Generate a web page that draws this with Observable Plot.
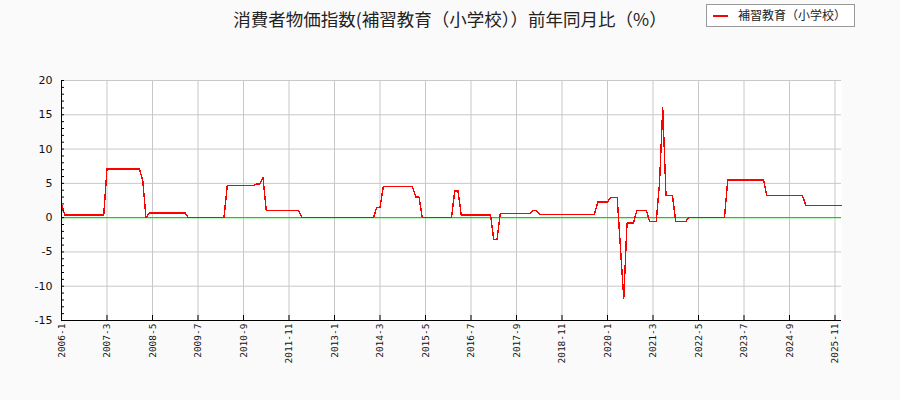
<!DOCTYPE html>
<html><head><meta charset="utf-8">
<script src="https://cdn.jsdelivr.net/npm/d3@7"></script>
<script src="https://cdn.jsdelivr.net/npm/@observablehq/plot@0.6"></script>
<style>
html,body{margin:0;padding:0;background:#fafafa;}
body{width:900px;height:400px;overflow:hidden;position:relative;}
#head{position:relative;width:900px;height:40px;}
#title{position:absolute;left:0;top:9px;width:900px;text-align:center;font-family:"Noto Sans CJK JP",sans-serif;font-size:17.5px;line-height:19px;color:#222;}
#legend{position:absolute;left:706px;top:4px;width:147px;height:21px;border:1px solid #999;background:#fff;font-family:"Noto Sans CJK JP",sans-serif;font-size:12px;color:#222;}
#legend .sw{position:absolute;left:6px;top:10px;width:15px;height:2px;background:#f00;}
#legend .lb{position:absolute;left:31px;top:3px;line-height:14px;white-space:nowrap;}
#chart svg{display:block;}
</style>
</head><body>
<div id="head">
  <div id="title">消費者物価指数(補習教育（小学校））前年同月比（%）</div>
  <div id="legend"><span class="sw"></span><span class="lb">補習教育（小学校）</span></div>
</div>
<div id="chart"></div>
<script>
const seriesName = "補習教育（小学校）";
const startYear = 2006;
const startMonth = 1;
// monthly year-on-year change (%), 2006-1 .. 2026-1
const values = [
  2.0, 0.4, 0.4, 0.4, 0.4, 0.4, 0.4, 0.4, 0.4, 0.4, 0.4, 0.4,   // 2006
  0.4, 0.4, 7.1, 7.1, 7.1, 7.1, 7.1, 7.1, 7.1, 7.1, 7.1, 7.1,   // 2007
  7.1, 5.4, 0.0, 0.7, 0.7, 0.7, 0.7, 0.7, 0.7, 0.7, 0.7, 0.7,   // 2008
  0.7, 0.7, 0.7, 0.0, 0.0, 0.0, 0.0, 0.0, 0.0, 0.0, 0.0, 0.0,   // 2009
  0.0, 0.0, 0.0, 4.7, 4.7, 4.7, 4.7, 4.7, 4.7, 4.7, 4.7, 4.7,   // 2010
  4.9, 4.9, 5.9, 1.0, 1.0, 1.0, 1.0, 1.0, 1.0, 1.0, 1.0, 1.0,   // 2011
  1.0, 1.0, 0.0, 0.0, 0.0, 0.0, 0.0, 0.0, 0.0, 0.0, 0.0, 0.0,   // 2012
  0.0, 0.0, 0.0, 0.0, 0.0, 0.0, 0.0, 0.0, 0.0, 0.0, 0.0, 0.0,   // 2013
  0.0, 1.5, 1.5, 4.5, 4.5, 4.5, 4.5, 4.5, 4.5, 4.5, 4.5, 4.5,   // 2014
  4.5, 3.0, 3.0, 0.0, 0.0, 0.0, 0.0, 0.0, 0.0, 0.0, 0.0, 0.0,   // 2015
  0.0, 3.9, 3.9, 0.4, 0.4, 0.4, 0.4, 0.4, 0.4, 0.4, 0.4, 0.4,   // 2016
  0.4, -3.2, -3.2, 0.6, 0.6, 0.6, 0.6, 0.6, 0.6, 0.6, 0.6, 0.6, // 2017
  0.6, 1.0, 1.0, 0.5, 0.5, 0.5, 0.5, 0.5, 0.5, 0.5, 0.5, 0.5,   // 2018
  0.5, 0.5, 0.5, 0.5, 0.5, 0.5, 0.5, 0.5, 0.5, 2.3, 2.3, 2.3,   // 2019
  2.3, 2.9, 2.9, 2.9, -4.5, -11.8, -0.8, -0.8, -0.8, 1.0, 1.0, 1.0, // 2020
  1.0, -0.6, -0.6, -0.6, 5.0, 16.0, 3.2, 3.2, 3.2, -0.6, -0.6, -0.6, // 2021
  -0.6, 0.0, 0.0, 0.0, 0.0, 0.0, 0.0, 0.0, 0.0, 0.0, 0.0, 0.0,  // 2022
  0.0, 5.5, 5.5, 5.5, 5.5, 5.5, 5.5, 5.5, 5.5, 5.5, 5.5, 5.5,   // 2023
  5.5, 3.2, 3.2, 3.2, 3.2, 3.2, 3.2, 3.2, 3.2, 3.2, 3.2, 3.2,   // 2024
  3.2, 1.8, 1.8, 1.8, 1.8, 1.8, 1.8, 1.8, 1.8, 1.8, 1.8, 1.8,   // 2025
  1.8                                                           // 2026
];
const tickLabels = ["2006-1","2007-3","2008-5","2009-7","2010-9","2011-11","2013-1","2014-3","2015-5",
  "2016-7","2017-9","2018-11","2020-1","2021-3","2022-5","2023-7","2024-9","2025-11"];
const yTicks = [-15, -10, -5, 0, 5, 10, 15, 20];
const yMinorTicks = [-15,-14,-13,-12,-11,-10,-9,-8,-7,-6,-5,-4,-3,-2,-1,0,1,2,3,4,5,6,7,8,9,10,11,12,13,14,15,16,17,18,19,20];

const months = values.map((_, i) => {
  const m = startMonth - 1 + i;
  return `${startYear + Math.floor(m / 12)}-${(m % 12) + 1}`;
});
const data = months.map((m, i) => ({month: m, value: values[i], series: seriesName}));

const W = 900, H = 360, mL = 61, mR = 59, mT = 40, mB = 80;
const chart = Plot.plot({
  width: W, height: H,
  marginTop: mT, marginBottom: mB, marginLeft: mL, marginRight: mR,
  style: {background: "transparent", fontFamily: "DejaVu Sans", overflow: "visible", color: "#111"},
  x: {type: "point", domain: months, padding: 0},
  y: {domain: [-15, 20]},
  marks: [
    Plot.frame({fill: "white", stroke: "none"}),
    Plot.gridX(tickLabels, {stroke: "#c8c8c8", strokeOpacity: 1}),
    Plot.gridY(yTicks.filter(d => d !== 0), {stroke: "#c8c8c8", strokeOpacity: 1}),
    Plot.ruleY([0], {stroke: "#00dd00", strokeWidth: 1.3}),
    Plot.line(data, {x: "month", y: "value", stroke: "#ff0000", strokeWidth: 1.4, shapeRendering: "crispEdges"}),
    Plot.ruleX([months[0]], {stroke: "black"}),
    Plot.ruleY([-15], {stroke: "black"}),
    Plot.tickY(yMinorTicks, {y: d => d, insetRight: W - mL - mR - 3, stroke: "black"}),
    Plot.tickX(tickLabels, {x: d => d, insetTop: H - mT - mB - 5, stroke: "black"}),
    Plot.axisY(yTicks, {tickSize: 0, tickPadding: 9, tickFormat: d => String(d), fontSize: 11, label: null}),
    Plot.axisX(tickLabels, {tickSize: 0, tickPadding: 3, tickRotate: -90, fontSize: 9.5, fontFamily: "DejaVu Sans Mono", label: null})
  ]
});
document.getElementById("chart").appendChild(chart);
</script>
</body></html>
